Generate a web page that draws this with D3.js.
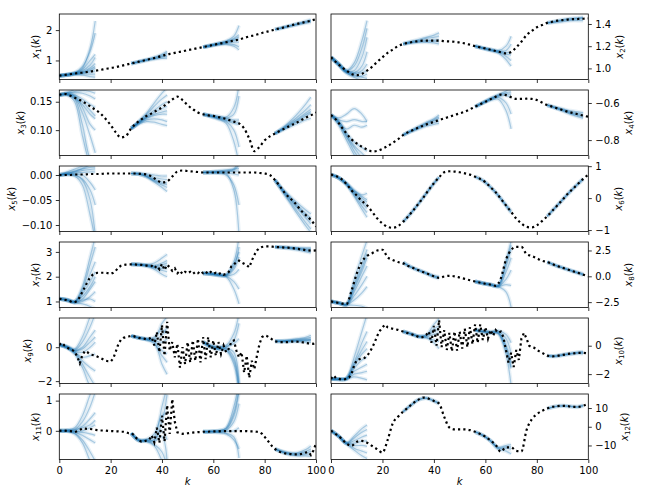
<!DOCTYPE html>
<html><head><meta charset="utf-8">
<script src="https://cdn.jsdelivr.net/npm/d3@7"></script>
<style>body{margin:0;background:#fff}svg{display:block}text{font-family:"DejaVu Sans",sans-serif}</style>
</head><body><svg id="c" width="648" height="504"></svg>
<script>
// ---------- data ----------
const K2 = d3.range(0, 101, 2);
const K1 = d3.range(0, 101);
const segStarts = [0, 28, 56, 84];
const segOffsets = [0, 3, 6, 9, 12, 14];
const xTicks = [0, 20, 40, 60, 80, 100];

const x1 = [0.50,0.52,0.545,0.57,0.59,0.61,0.635,0.66,0.69,0.72,0.75,0.78,0.82,0.86,0.90,0.94,0.98,1.02,1.06,1.10,1.15,1.20,1.23,1.27,1.30,1.34,1.37,1.41,1.44,1.48,1.51,1.55,1.58,1.62,1.65,1.69,1.74,1.79,1.83,1.88,1.93,1.97,2.02,2.06,2.10,2.15,2.19,2.23,2.27,2.31,2.36];
const x2 = [1.10,1.055,1.015,0.98,0.95,0.94,0.95,0.98,1.015,1.06,1.10,1.14,1.17,1.20,1.22,1.23,1.24,1.245,1.25,1.25,1.25,1.25,1.245,1.243,1.24,1.233,1.225,1.213,1.20,1.19,1.18,1.168,1.157,1.145,1.135,1.148,1.19,1.24,1.30,1.337,1.37,1.39,1.41,1.42,1.43,1.435,1.44,1.443,1.445,1.447,1.45];
const x3 = [0.162,0.164,0.161,0.157,0.153,0.148,0.142,0.136,0.1295,0.12,0.109,0.096,0.087,0.09,0.103,0.112,0.119,0.125,0.1295,0.135,0.140,0.147,0.154,0.159,0.153,0.144,0.137,0.131,0.128,0.126,0.125,0.123,0.121,0.118,0.115,0.112,0.103,0.085,0.063,0.0705,0.082,0.089,0.094,0.099,0.103,0.108,0.112,0.117,0.122,0.126,0.131];
const x4 = [-0.665,-0.69,-0.728,-0.764,-0.796,-0.818,-0.836,-0.850,-0.861,-0.858,-0.847,-0.832,-0.815,-0.796,-0.773,-0.757,-0.746,-0.733,-0.721,-0.711,-0.701,-0.692,-0.683,-0.674,-0.665,-0.656,-0.647,-0.634,-0.62,-0.607,-0.593,-0.58,-0.566,-0.555,-0.558,-0.569,-0.578,-0.578,-0.577,-0.578,-0.584,-0.597,-0.611,-0.62,-0.629,-0.638,-0.647,-0.654,-0.661,-0.668,-0.674];
const x5 = [0,0,0,0.001,0.001,0.001,0.002,0.002,0.002,0.003,0.003,0.003,0.003,0.003,0.003,0.003,0.002,0.001,-0.003,-0.01,-0.015,-0.013,-0.003,0.007,0.009,0.008,0.007,0.006,0.005,0.005,0.005,0.005,0.005,0.005,0.005,0.005,0.005,0.005,0.005,0.004,0.003,0.0,-0.01,-0.023,-0.037,-0.047,-0.057,-0.07,-0.08,-0.09,-0.103];
const x6 = [0.736,0.69,0.60,0.44,0.24,0.084,-0.09,-0.227,-0.43,-0.64,-0.795,-0.90,-0.93,-0.88,-0.745,-0.57,-0.38,-0.175,0.03,0.26,0.466,0.65,0.81,0.84,0.83,0.81,0.776,0.736,0.67,0.60,0.50,0.34,0.186,-0.02,-0.227,-0.43,-0.64,-0.795,-0.90,-0.92,-0.85,-0.72,-0.57,-0.40,-0.227,-0.05,0.136,0.29,0.447,0.60,0.736];
const x7 = [1.11,1.09,1.07,1.05,1.02,0.97,0.97,1.02,1.18,1.39,1.59,1.80,1.97,2.08,2.14,2.16,2.16,2.16,2.16,2.14,2.11,2.16,2.24,2.37,2.44,2.47,2.49,2.50,2.50,2.50,2.49,2.48,2.48,2.46,2.45,2.44,2.44,2.34,2.44,2.30,2.52,2.27,2.48,2.38,2.24,2.34,2.14,2.24,2.11,2.20,2.14,2.20,2.11,2.19,2.14,2.23,2.14,2.21,2.11,2.19,2.11,2.16,2.10,2.15,2.08,2.11,2.19,2.41,2.48,2.61,2.65,2.57,2.52,2.46,2.38,2.65,2.88,3.06,3.16,3.20,3.22,3.22,3.22,3.21,3.20,3.19,3.19,3.18,3.17,3.17,3.16,3.15,3.13,3.12,3.10,3.09,3.07,3.06,3.05,3.05,3.06];
const x8 = [-2.43,-2.53,-2.63,-2.70,-1.38,0.26,1.41,1.97,2.24,2.50,2.57,1.84,1.58,1.38,1.25,1.0,0.8,0.59,0.39,0.2,0.0,-0.15,-0.02,0.05,0.0,-0.12,-0.25,-0.38,-0.5,-0.62,-0.72,-0.8,-0.92,-0.2,1.6,2.55,2.85,2.85,2.15,1.97,1.74,1.51,1.38,1.18,0.99,0.82,0.66,0.49,0.33,0.16,0.0];
const x9 = [0.14,0.26,0.10,-0.02,-0.10,-0.16,-0.26,-0.57,-0.95,-0.46,-0.22,-0.30,-0.42,-0.46,-0.50,-0.57,-0.63,-0.71,-0.79,-0.83,-0.85,-0.67,-0.26,0.18,0.44,0.55,0.59,0.63,0.67,0.65,0.59,0.55,0.51,0.50,0.46,0.50,0.60,0.10,0.90,-0.30,1.30,-0.50,1.50,-0.20,0.30,-0.60,0.20,-1.20,0.00,-1.00,0.30,-0.90,0.40,-0.80,0.50,-0.90,0.60,-0.70,0.60,-0.60,0.40,-0.50,0.30,-0.40,0.10,-0.30,-0.10,0.30,0.40,-0.20,-0.60,-0.30,-1.50,-0.50,-1.80,-0.80,-1.30,-0.50,0.20,0.60,0.70,0.65,0.55,0.45,0.35,0.32,0.30,0.30,0.30,0.30,0.32,0.33,0.33,0.32,0.30,0.28,0.25,0.22,0.22,0.20,0.25];
const x10 = [-2.33,-2.10,-2.29,-2.33,-2.38,-2.38,-2.33,-2.24,-1.98,-1.38,-1.02,-0.95,-0.90,-0.86,-0.71,-0.48,-0.14,0.24,0.71,1.05,1.29,1.48,1.29,1.24,1.19,1.15,1.12,1.06,1.00,0.94,0.88,0.82,0.76,0.69,0.62,0.57,0.62,0.76,1.00,0.20,1.40,0.00,1.80,-0.10,1.10,-0.30,0.90,-0.40,1.00,-0.35,1.00,-0.20,1.20,-0.10,1.30,0.10,1.50,0.20,1.50,0.40,1.30,0.50,1.10,0.70,1.10,0.90,1.00,0.60,-0.30,-1.20,-0.50,-1.50,-0.30,-1.00,0.50,0.90,0.50,0.00,-0.10,-0.15,-0.30,-0.40,-0.50,-0.60,-0.70,-0.73,-0.75,-0.74,-0.72,-0.68,-0.65,-0.62,-0.58,-0.56,-0.55,-0.52,-0.50,-0.50,-0.50,-0.52,-0.55];
const x11 = [0.00,0.01,0.01,0.00,-0.01,-0.02,-0.04,-0.01,0.03,0.08,0.07,0.06,0.06,0.05,0.03,0.02,0.01,0.01,0.01,0.00,-0.01,-0.01,-0.02,-0.02,-0.03,-0.03,-0.04,-0.08,-0.08,-0.13,-0.24,-0.32,-0.36,-0.35,-0.32,-0.30,-0.15,-0.38,0.10,-0.40,0.50,-0.35,0.85,-0.10,1.05,0.30,-0.05,-0.08,-0.10,-0.09,-0.08,-0.07,-0.06,-0.05,-0.04,-0.04,-0.03,-0.03,-0.03,-0.02,-0.02,-0.02,-0.02,-0.01,-0.01,-0.01,-0.01,-0.01,-0.01,-0.01,-0.01,-0.01,-0.01,-0.01,-0.02,-0.02,-0.02,-0.03,-0.04,-0.10,-0.20,-0.30,-0.42,-0.52,-0.60,-0.66,-0.70,-0.73,-0.75,-0.76,-0.77,-0.78,-0.78,-0.78,-0.77,-0.75,-0.72,-0.70,-0.80,-0.65,-0.42];
const x12 = [-2.1,-4.1,-6.2,-9.0,-10.2,-8.0,-7.6,-8.5,-10.3,-12.0,-13.8,-7.1,1.8,5.3,8.0,10.3,12.7,14.5,15.6,15.0,13.8,12.4,5.3,-0.4,-1.4,-1.4,-1.4,-1.8,-2.7,-3.9,-5.3,-7.4,-9.7,-13.3,-11.0,-11.0,-12.9,-13.2,-1.8,3.9,6.7,8.5,9.7,10.6,11.0,11.2,11.0,10.6,10.6,11.3,12.4];

// ensemble members: values at segment start + segOffsets
const e1a = [[0.5,0.53,0.58,0.75,1.4,2.3],[0.5,0.54,0.60,0.80,1.3,1.9],[0.5,0.52,0.57,0.70,1.0,1.2],[0.5,0.53,0.58,0.66,0.85,1.1],[0.5,0.53,0.57,0.62,0.75,0.9],[0.5,0.53,0.56,0.60,0.66,0.75],[0.5,0.52,0.56,0.58,0.62,0.65],[0.5,0.52,0.55,0.56,0.55,0.55],[0.5,0.52,0.54,0.52,0.47,0.45],[0.5,0.53,0.57,0.61,0.70,0.80]];
const e1b = [[0.90,0.96,1.02,1.09,1.17,1.25],[0.90,0.96,1.03,1.10,1.20,1.30],[0.90,0.95,1.01,1.06,1.11,1.13],[0.90,0.96,1.02,1.07,1.13,1.18],[0.90,0.95,1.00,1.04,1.07,1.08]];
const e1c = [[1.44,1.50,1.56,1.64,1.80,2.15],[1.44,1.50,1.56,1.62,1.72,1.85],[1.44,1.49,1.55,1.60,1.66,1.70],[1.44,1.49,1.54,1.58,1.60,1.60],[1.44,1.49,1.53,1.55,1.52,1.45],[1.44,1.48,1.52,1.53,1.47,1.35],[1.44,1.49,1.55,1.61,1.69,1.78]];
const e1d = [[2.02,2.08,2.14,2.20,2.26,2.30],[2.02,2.08,2.15,2.22,2.29,2.34],[2.02,2.07,2.13,2.18,2.23,2.26],[2.02,2.08,2.14,2.21,2.27,2.32]];

const e2a = [[1.10,1.04,0.98,1.05,1.25,1.43],[1.10,1.04,0.98,1.02,1.18,1.36],[1.10,1.04,0.97,0.98,1.10,1.28],[1.10,1.03,0.97,0.96,1.02,1.15],[1.10,1.04,0.97,0.95,0.98,1.04],[1.10,1.03,0.96,0.93,0.93,0.95],[1.10,1.04,0.97,0.94,0.92,0.91],[1.10,1.03,0.96,0.92,0.89,0.88],[1.10,1.04,0.98,0.96,0.96,0.98]];
const e2b = [[1.22,1.24,1.26,1.28,1.30,1.32],[1.22,1.24,1.25,1.27,1.28,1.29],[1.22,1.235,1.245,1.25,1.255,1.26],[1.22,1.23,1.24,1.245,1.245,1.24],[1.22,1.23,1.235,1.235,1.23,1.22]];
const e2c = [[1.20,1.185,1.17,1.16,1.20,1.29],[1.20,1.185,1.17,1.155,1.16,1.22],[1.20,1.185,1.17,1.155,1.14,1.15],[1.20,1.18,1.165,1.15,1.13,1.12],[1.20,1.18,1.165,1.145,1.11,1.07],[1.20,1.18,1.16,1.14,1.08,1.02]];
const e2d = [[1.41,1.425,1.44,1.45,1.455,1.46],[1.41,1.42,1.43,1.44,1.445,1.45],[1.41,1.415,1.42,1.43,1.43,1.43],[1.41,1.42,1.435,1.445,1.45,1.455]];

const e3a = [[0.162,0.166,0.172,0.178,0.18,0.18],[0.162,0.165,0.168,0.170,0.168,0.165],[0.162,0.163,0.160,0.150,0.135,0.125],[0.162,0.164,0.162,0.155,0.145,0.140],[0.162,0.163,0.158,0.130,0.090,0.060],[0.162,0.163,0.155,0.110,0.050,0.040],[0.162,0.162,0.150,0.090,0.040,0.030],[0.162,0.164,0.160,0.140,0.110,0.100],[0.162,0.165,0.166,0.165,0.160,0.155],[0.162,0.163,0.156,0.145,0.128,0.120]];
const e3b = [[0.103,0.116,0.130,0.148,0.165,0.175],[0.103,0.115,0.128,0.142,0.155,0.162],[0.103,0.114,0.125,0.135,0.145,0.150],[0.103,0.113,0.122,0.128,0.132,0.134],[0.103,0.113,0.121,0.126,0.128,0.128],[0.103,0.112,0.118,0.120,0.118,0.115],[0.103,0.113,0.123,0.131,0.138,0.142],[0.103,0.111,0.115,0.114,0.110,0.108]];
const e3c = [[0.128,0.126,0.124,0.123,0.140,0.180],[0.128,0.125,0.122,0.121,0.128,0.160],[0.128,0.125,0.122,0.118,0.115,0.113],[0.128,0.125,0.121,0.117,0.112,0.110],[0.128,0.124,0.120,0.115,0.100,0.070],[0.128,0.124,0.119,0.112,0.080,0.040],[0.128,0.126,0.124,0.121,0.118,0.118]];
const e3d = [[0.094,0.104,0.116,0.130,0.146,0.158],[0.094,0.103,0.113,0.124,0.136,0.145],[0.094,0.102,0.111,0.120,0.130,0.137],[0.094,0.101,0.108,0.116,0.124,0.130],[0.094,0.100,0.106,0.112,0.118,0.121],[0.094,0.102,0.110,0.118,0.127,0.133]];

const e4a = [[-0.665,-0.71,-0.78,-0.84,-0.90,-0.95],[-0.665,-0.72,-0.80,-0.88,-0.95,-1.0],[-0.665,-0.70,-0.77,-0.83,-0.87,-0.90],[-0.665,-0.70,-0.76,-0.81,-0.84,-0.86],[-0.665,-0.69,-0.70,-0.69,-0.70,-0.70],[-0.665,-0.68,-0.66,-0.63,-0.66,-0.70],[-0.665,-0.70,-0.74,-0.72,-0.73,-0.72],[-0.665,-0.71,-0.78,-0.86,-0.92,-0.96]];
const e4b = [[-0.773,-0.75,-0.727,-0.705,-0.685,-0.665],[-0.773,-0.752,-0.732,-0.712,-0.695,-0.682],[-0.773,-0.753,-0.735,-0.718,-0.705,-0.698],[-0.773,-0.755,-0.74,-0.725,-0.715,-0.71],[-0.773,-0.751,-0.73,-0.709,-0.69,-0.675]];
const e4c = [[-0.62,-0.598,-0.575,-0.555,-0.535,-0.52],[-0.62,-0.60,-0.578,-0.56,-0.545,-0.54],[-0.62,-0.60,-0.58,-0.565,-0.56,-0.57],[-0.62,-0.60,-0.58,-0.57,-0.60,-0.66],[-0.62,-0.60,-0.585,-0.58,-0.64,-0.74],[-0.62,-0.598,-0.578,-0.56,-0.55,-0.555]];
const e4d = [[-0.611,-0.622,-0.632,-0.642,-0.648,-0.652],[-0.611,-0.625,-0.638,-0.652,-0.662,-0.668],[-0.611,-0.627,-0.643,-0.660,-0.674,-0.682],[-0.611,-0.624,-0.636,-0.648,-0.656,-0.662],[-0.611,-0.626,-0.640,-0.656,-0.668,-0.676]];

const e5a = [[0,0.006,0.012,0.018,0.025,0.03],[0,0.004,0.008,0.012,0.015,0.016],[0,0.003,0.006,0.009,0.011,0.012],[0,0.002,0.004,0.005,0.006,0.006],[0,0.001,0.0,-0.01,-0.05,-0.12],[0,0.001,-0.002,-0.02,-0.08,-0.13],[0,0.001,0.0,-0.008,-0.03,-0.06],[0,0.002,0.002,0.0,-0.015,-0.03],[0,0.003,0.007,0.013,0.02,0.024]];
const e5b = [[0.003,0.002,-0.004,-0.014,-0.025,-0.033],[0.003,0.002,-0.003,-0.012,-0.02,-0.025],[0.003,0.002,-0.002,-0.009,-0.014,-0.016],[0.003,0.003,0.0,-0.005,-0.008,-0.009],[0.003,0.003,0.002,0.0,-0.002,-0.002],[0.003,0.002,-0.003,-0.011,-0.017,-0.019]];
const e5c = [[0.005,0.006,0.007,0.008,0.012,0.03],[0.005,0.006,0.007,0.008,0.010,0.02],[0.005,0.005,0.006,0.006,0.007,0.008],[0.005,0.005,0.005,0.004,0.002,0.0],[0.005,0.005,0.004,0.003,-0.03,-0.12],[0.005,0.005,0.004,0.0,-0.02,-0.06],[0.005,0.006,0.008,0.010,0.012,0.013]];
const e5d = [[-0.01,-0.031,-0.05,-0.068,-0.086,-0.098],[-0.01,-0.033,-0.054,-0.075,-0.095,-0.108],[-0.01,-0.029,-0.046,-0.062,-0.077,-0.086],[-0.01,-0.03,-0.048,-0.065,-0.081,-0.092],[-0.01,-0.028,-0.043,-0.057,-0.07,-0.078],[-0.01,-0.034,-0.057,-0.08,-0.102,-0.115]];

const e6a = [[0.736,0.64,0.46,0.22,0.05,-0.05],[0.736,0.64,0.45,0.20,0.0,-0.12],[0.736,0.64,0.45,0.17,-0.08,-0.22],[0.736,0.63,0.44,0.14,-0.15,-0.32],[0.736,0.63,0.43,0.10,-0.25,-0.45],[0.736,0.63,0.42,0.06,-0.35,-0.60],[0.736,0.64,0.47,0.25,0.10,0.15]];
const e6b = [[-0.745,-0.47,-0.17,0.15,0.47,0.66],[-0.745,-0.48,-0.18,0.14,0.46,0.64],[-0.745,-0.475,-0.175,0.145,0.466,0.65]];
const e6c = [[0.67,0.55,0.35,0.10,-0.20,-0.40],[0.67,0.55,0.34,0.07,-0.25,-0.46],[0.67,0.55,0.34,0.08,-0.227,-0.43]];
const e6d = [[-0.57,-0.31,-0.05,0.21,0.45,0.60],[-0.57,-0.32,-0.06,0.20,0.43,0.58],[-0.57,-0.30,-0.04,0.22,0.46,0.62]];

const e7a = [[1.11,1.08,1.00,1.6,2.8,3.6],[1.11,1.07,1.00,1.5,2.5,3.2],[1.11,1.06,0.98,1.4,2.1,2.6],[1.11,1.06,0.97,1.3,1.8,2.2],[1.11,1.05,0.96,1.1,1.5,1.8],[1.11,1.05,0.96,1.0,1.2,1.4],[1.11,1.04,0.95,0.90,0.80,0.70],[1.11,1.05,0.97,1.05,1.1,1.0],[1.11,1.07,1.02,1.2,1.6,2.0]];
const e7b = [[2.50,2.50,2.48,2.55,2.75,2.9],[2.50,2.49,2.47,2.45,2.55,2.65],[2.50,2.49,2.46,2.40,2.40,2.45],[2.50,2.48,2.44,2.35,2.25,2.20],[2.50,2.48,2.43,2.30,2.10,2.0],[2.50,2.49,2.45,2.42,2.48,2.55],[2.50,2.48,2.45,2.38,2.32,2.35]];
const e7c = [[2.14,2.12,2.08,2.08,2.6,3.6],[2.14,2.12,2.08,2.06,2.4,3.2],[2.14,2.11,2.07,2.05,2.3,2.8],[2.14,2.11,2.06,2.03,2.1,2.3],[2.14,2.11,2.06,2.02,1.8,1.5],[2.14,2.10,2.05,2.0,1.5,0.9],[2.14,2.12,2.09,2.08,2.5,3.0]];
const e7d = [[3.2,3.19,3.17,3.15,3.12,3.12],[3.2,3.18,3.15,3.11,3.06,3.02],[3.2,3.17,3.13,3.08,3.01,2.96],[3.2,3.18,3.16,3.13,3.09,3.07],[3.2,3.19,3.18,3.17,3.16,3.16]];

const e8a = [[-2.43,-2.58,-2.70,-0.3,2.0,3.5],[-2.43,-2.58,-2.70,-0.8,1.2,2.6],[-2.43,-2.58,-2.72,-1.2,0.5,1.8],[-2.43,-2.58,-2.72,-1.5,0.0,1.0],[-2.43,-2.59,-2.74,-1.9,-0.8,0.0],[-2.43,-2.59,-2.75,-2.3,-1.6,-1.0],[-2.43,-2.6,-2.78,-2.8,-2.9,-3.1],[-2.43,-2.59,-2.73,-1.0,0.8,2.2]];
const e8b = [[1.33,0.92,0.62,0.33,0.05,-0.05],[1.33,0.90,0.59,0.30,-0.02,-0.12],[1.33,0.88,0.56,0.26,-0.08,-0.22],[1.33,0.91,0.6,0.31,0.0,-0.08]];
const e8c = [[-0.5,-0.67,-0.8,-0.9,1.5,3.4],[-0.5,-0.67,-0.8,-0.92,1.0,2.6],[-0.5,-0.67,-0.81,-0.95,0.4,1.8],[-0.5,-0.68,-0.82,-0.97,-0.3,0.6],[-0.5,-0.68,-0.83,-1.0,-1.5,-3.0],[-0.5,-0.67,-0.8,-0.92,1.3,3.0],[-0.5,-0.68,-0.82,-0.98,-0.8,-0.9]];
const e8d = [[1.38,1.09,0.84,0.6,0.38,0.24],[1.38,1.08,0.82,0.57,0.33,0.16],[1.38,1.07,0.8,0.54,0.29,0.10],[1.38,1.08,0.83,0.58,0.35,0.2]];

const e9a = [[0.14,0.05,-0.1,0.6,1.8,2.5],[0.14,0.03,-0.15,0.3,1.2,2.0],[0.14,0.0,-0.2,0.0,0.6,1.0],[0.14,0.0,-0.25,-0.3,0.0,0.3],[0.14,-0.02,-0.3,-0.6,-0.5,-0.4],[0.14,-0.02,-0.3,-0.8,-1.2,-1.4],[0.14,-0.03,-0.35,-1.0,-1.8,-2.3],[0.14,-0.04,-0.4,-1.2,-2.3,-2.6],[0.14,0.02,-0.2,-0.1,0.3,0.6]];
const e9b = [[0.67,0.55,0.48,0.5,1.4,1.8],[0.67,0.55,0.46,0.3,-1.0,-1.6],[0.67,0.56,0.5,0.6,1.0,0.8],[0.67,0.54,0.44,0.2,-0.5,-0.9],[0.67,0.55,0.46,0.4,0.3,0.5],[0.67,0.56,0.48,0.45,0.7,1.2],[0.67,0.55,0.45,0.35,-0.2,-0.4]];
const e9c = [[0.3,0.1,0.0,0.1,0.8,2.0],[0.3,0.05,-0.05,0.0,0.4,1.4],[0.3,0.0,-0.1,-0.1,-0.6,-2.5],[0.3,0.0,-0.15,-0.2,-1.0,-2.6],[0.3,0.05,-0.05,-0.05,-0.3,-2.2],[0.3,0.1,0.05,0.05,0.2,0.5],[0.3,0.0,-0.1,-0.15,-0.8,-2.4]];
const e9d = [[0.35,0.38,0.43,0.50,0.58,0.70],[0.35,0.36,0.40,0.45,0.50,0.58],[0.35,0.35,0.38,0.41,0.44,0.48],[0.35,0.34,0.35,0.37,0.38,0.40],[0.35,0.33,0.32,0.32,0.30,0.28],[0.35,0.35,0.37,0.39,0.42,0.45]];

const e10a = [[-2.33,-2.35,-2.3,-0.8,1.0,2.2],[-2.33,-2.35,-2.3,-1.2,0.2,1.0],[-2.33,-2.35,-2.3,-1.4,-0.6,-0.2],[-2.33,-2.36,-2.32,-1.6,-1.0,-0.8],[-2.33,-2.36,-2.33,-1.8,-1.5,-1.3],[-2.33,-2.37,-2.35,-2.0,-1.9,-1.8],[-2.33,-2.37,-2.36,-2.2,-2.3,-2.4],[-2.33,-2.35,-2.31,-1.3,-0.3,0.3]];
const e10b = [[1.0,0.85,0.68,0.75,1.5,1.9],[1.0,0.84,0.66,0.7,1.2,1.4],[1.0,0.83,0.64,0.6,0.2,-0.2],[1.0,0.82,0.62,0.55,0.4,0.3],[1.0,0.83,0.65,0.65,0.8,0.9],[1.0,0.84,0.67,0.72,1.0,1.2]];
const e10c = [[1.1,1.0,0.95,1.0,0.5,-0.5],[1.1,1.0,0.95,0.95,0.0,-1.2],[1.1,1.0,0.9,0.9,-0.3,-1.6],[1.1,0.95,0.9,0.85,-0.6,-2.8],[1.1,1.05,1.0,1.05,0.8,0.2],[1.1,1.0,0.92,0.9,-0.1,-1.5]];
const e10d = [[-0.7,-0.72,-0.63,-0.55,-0.46,-0.42],[-0.7,-0.74,-0.65,-0.57,-0.5,-0.5],[-0.7,-0.76,-0.68,-0.6,-0.55,-0.56],[-0.7,-0.73,-0.64,-0.56,-0.48,-0.46]];

const e11a = [[0,0.02,0.1,0.5,1.2,1.6],[0,0.01,0.05,0.3,0.8,1.3],[0,0.01,0.02,0.15,0.4,0.6],[0,0.0,-0.02,0.0,0.1,0.2],[0,0.0,-0.05,-0.15,-0.3,-0.4],[0,-0.01,-0.08,-0.3,-0.7,-1.0],[0,-0.01,-0.1,-0.4,-1.0,-1.3],[0,0.0,-0.03,-0.05,-0.1,-0.15],[0,0.01,0.03,0.1,0.2,0.35]];
const e11b = [[-0.08,-0.3,-0.3,-0.2,0.8,1.5],[-0.08,-0.31,-0.31,-0.3,0.3,1.2],[-0.08,-0.33,-0.34,-0.45,-0.7,-1.2],[-0.08,-0.32,-0.33,-0.35,-0.2,-1.0],[-0.08,-0.3,-0.28,-0.1,0.5,0.6],[-0.08,-0.32,-0.32,-0.3,0.0,-0.3],[-0.08,-0.33,-0.35,-0.5,-1.0,-1.5]];
const e11c = [[-0.03,-0.02,0.0,0.1,0.8,1.6],[-0.03,-0.02,0.0,0.05,0.5,1.3],[-0.03,-0.02,-0.01,0.02,0.3,0.9],[-0.03,-0.03,-0.03,-0.02,0.0,0.1],[-0.03,-0.04,-0.06,-0.1,-0.3,-0.6],[-0.03,-0.03,-0.05,-0.08,-0.2,-0.9],[-0.03,-0.02,0.0,0.08,0.6,1.4]];
const e11d = [[-0.6,-0.68,-0.73,-0.72,-0.62,-0.5],[-0.6,-0.69,-0.75,-0.75,-0.68,-0.6],[-0.6,-0.7,-0.76,-0.77,-0.73,-0.68],[-0.6,-0.71,-0.78,-0.8,-0.78,-0.76],[-0.6,-0.72,-0.8,-0.83,-0.83,-0.85]];

const e12a = [[-2.1,-5.1,-8.8,-5.0,-1.0,0.9],[-2.1,-5.1,-8.8,-6.0,-3.0,-1.5],[-2.1,-5.1,-8.8,-7.5,-5.5,-4.5],[-2.1,-5.1,-8.8,-8.8,-7.8,-7.5],[-2.1,-5.1,-8.9,-10.0,-10.0,-10.5],[-2.1,-5.1,-9.0,-11.5,-13.0,-14.0],[-2.1,-5.1,-9.0,-12.5,-15.5,-17.0]];
const e12b = [[8.0,11.5,14.5,15.4,14.0,12.6],[8.0,11.4,14.3,15.2,13.6,12.2],[8.0,11.5,14.5,15.3,13.8,12.4]];
const e12c = [[-2.7,-4.6,-7.4,-11.0,-10.0,-9.5],[-2.7,-4.6,-7.5,-11.5,-11.5,-12.0],[-2.7,-4.7,-7.6,-12.0,-13.0,-14.5],[-2.7,-4.6,-7.4,-11.3,-10.8,-10.8]];
const e12d = [[9.7,10.8,11.2,10.9,10.7,11.4],[9.7,10.7,11.1,10.7,10.4,11.0],[9.7,10.8,11.3,11.0,10.8,11.6]];

const yLims = [[0.373,2.53],[0.90,1.49],[0.0553,0.1707],[-0.883,-0.53],[-0.113,0.018],[-1.045,1.005],[0.757,3.40],[-3.02,3.32],[-2.14,1.72],[-2.66,1.95],[-0.95,1.22],[-17.5,17.5]];
const yTicks = [[1,2],[1.0,1.2,1.4],[0.10,0.15],[-0.8,-0.6],[-0.10,-0.05,0.00],[-1,0,1],[1,2,3],[-2.5,0.0,2.5],[-2,0],[-2,0],[0,1],[-10,0,10]];
const yFormats = ["d",".1f",".2f",".1f",".2f","d","d",".1f","d","d","d","d"];

// ---------- drawing ----------
const truths = [x1,x2,x3,x4,x5,x6,x7,x8,x9,x10,x11,x12];
const truthK = [K2,K2,K2,K2,K2,K2,K1,K2,K1,K1,K1,K2];
const ens = [[e1a,e1b,e1c,e1d],[e2a,e2b,e2c,e2d],[e3a,e3b,e3c,e3d],[e4a,e4b,e4c,e4d],[e5a,e5b,e5c,e5d],[e6a,e6b,e6c,e6d],[e7a,e7b,e7c,e7d],[e8a,e8b,e8c,e8d],[e9a,e9b,e9c,e9d],[e10a,e10b,e10c,e10d],[e11a,e11b,e11c,e11d],[e12a,e12b,e12c,e12d]];

const svg = d3.select('#c');
const colX = [[59.3, 316], [331, 588.3]];
const rowTop = [14, 90, 166, 242, 318, 394];
const ph = 65.5;

for (let i = 0; i < 12; i++) {
  const r = Math.floor(i / 2), c = i % 2;
  const [xa, xb] = colX[c];
  const top = rowTop[r], bot = top + ph;
  const xs = d3.scaleLinear().domain([0, 100]).range([xa, xb]);
  const ys = d3.scaleLinear().domain(yLims[i]).range([bot, top]);
  const g = svg.append('g');
  const cid = 'clip' + i;
  svg.append('clipPath').attr('id', cid).append('rect')
    .attr('x', xa).attr('y', top).attr('width', xb - xa).attr('height', ph);
  const pg = g.append('g').attr('clip-path', `url(#${cid})`);

  const eLine = d3.line().x(d => xs(d[0])).y(d => ys(d[1])).curve(d3.curveCatmullRom.alpha(0.5));
  ens[i].forEach((seg, s) => {
    seg.forEach(m => {
      const pts = segOffsets.map((o, j) => [segStarts[s] + o, m[j]]);
      const d = eLine(pts);
      pg.append('path').attr('d', d).attr('fill', 'none')
        .attr('stroke', '#1f77b4').attr('stroke-opacity', 0.1).attr('stroke-width', 4);
      pg.append('path').attr('d', d).attr('fill', 'none')
        .attr('stroke', '#1f77b4').attr('stroke-opacity', 0.32).attr('stroke-width', 1.2);
    });
  });

  const tLine = d3.line().x(d => xs(d[0])).y(d => ys(d[1]))
    .curve(truthK[i] === K1 ? d3.curveLinear : d3.curveMonotoneX);
  const tPts = truthK[i].map((k, j) => [k, truths[i][j]]);
  pg.append('path').attr('d', tLine(tPts)).attr('fill', 'none')
    .attr('stroke', '#000').attr('stroke-width', 2.2).attr('stroke-dasharray', '2.2,3.1');

  g.append('rect').attr('x', xa).attr('y', top).attr('width', xb - xa).attr('height', ph)
    .attr('fill', 'none').attr('stroke', '#000').attr('stroke-width', 0.8);

  const xg = g.append('g').attr('transform', `translate(0,${bot})`)
    .call(d3.axisBottom(xs).tickValues(xTicks).tickSize(3.5).tickPadding(3.5)
      .tickFormat(r === 5 ? d3.format('d') : () => ''));
  xg.select('.domain').remove();
  xg.selectAll('line').attr('stroke', '#000').attr('stroke-width', 0.8);
  xg.selectAll('text').attr('font-size', 10).attr('fill', '#000').style('font-family', '"DejaVu Sans",sans-serif');

  const fmt = d3.format(yFormats[i]);
  const ax = c === 0 ? d3.axisLeft(ys) : d3.axisRight(ys);
  const yg = g.append('g').attr('transform', `translate(${c === 0 ? xa : xb},0)`)
    .call(ax.tickValues(yTicks[i]).tickSize(3.5).tickPadding(3.5).tickFormat(fmt));
  yg.select('.domain').remove();
  yg.selectAll('line').attr('stroke', '#000').attr('stroke-width', 0.8);
  yg.selectAll('text').attr('font-size', 10).attr('fill', '#000').style('font-family', '"DejaVu Sans",sans-serif');

  const bb = yg.node().getBBox();
  const cy = (top + bot) / 2;
  const lx = c === 0 ? xa + bb.x - 4 - 2.5 : xb + bb.x + bb.width + 4 + 8;
  const t = g.append('text').attr('transform', `translate(${lx},${cy}) rotate(-90)`)
    .attr('text-anchor', 'middle').attr('font-size', 10).attr('fill', '#000');
  t.append('tspan').attr('font-style', 'italic').text('x');
  t.append('tspan').attr('font-size', 7).attr('dy', 2).text(String(i + 1));
  t.append('tspan').attr('dy', -2).text('(');
  t.append('tspan').attr('font-style', 'italic').text('k');
  t.append('tspan').text(')');

  if (r === 5) {
    g.append('text').attr('x', (xa + xb) / 2).attr('y', 485).attr('text-anchor', 'middle')
      .attr('font-size', 10).attr('font-style', 'italic').attr('fill', '#000').text('k');
  }
}
</script></body></html>
